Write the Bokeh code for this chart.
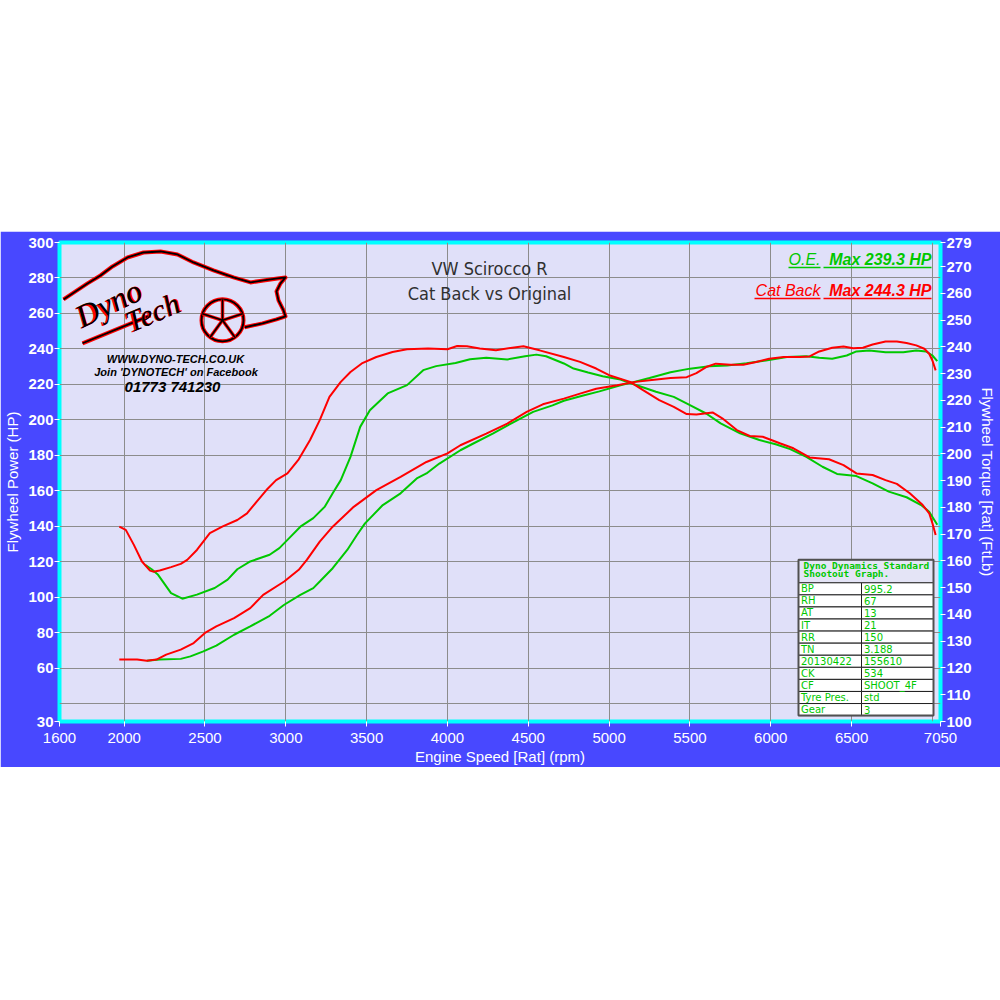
import math
from bokeh.plotting import figure
from bokeh.models import Range1d, LinearAxis, FixedTicker, Spacer
from bokeh.layouts import column
from bokeh.embed import file_html
from bokeh.resources import INLINE
from bokeh.core.properties import value

# ---------------- data ----------------
title_lines = ["VW Scirocco R", "Cat Back vs Original"]
x_ticks = [1600, 2000, 2500, 3000, 3500, 4000, 4500, 5000, 5500, 6000, 6500, 7050]
hp_ticks = [30, 60, 80, 100, 120, 140, 160, 180, 200, 220, 240, 260, 280, 300]
tq_ticks = [100, 110, 120, 130, 140, 150, 160, 170, 180, 190, 200, 210, 220, 230, 240, 250, 260, 270, 279]
grid_x = [2000, 2500, 3000, 3500, 4000, 4500, 5000, 5500, 6000, 6500, 7000]
grid_y = [40, 60, 80, 100, 120, 140, 160, 180, 200, 220, 240, 260, 280]

# Cat Back (red) power, HP
rpm_hp_cat = [1970, 2080, 2140, 2200, 2260, 2350, 2430, 2500, 2570, 2680,
              2780, 2860, 2990, 3080, 3130, 3210, 3290, 3420, 3560, 3710,
              3870, 4000, 4080, 4240, 4370, 4490, 4590, 4720, 4820, 4920,
              5050, 5150, 5250, 5380, 5480, 5540, 5600, 5660, 5750, 5830,
              5910, 5990, 6080, 6180, 6240, 6300, 6380, 6450, 6510, 6570,
              6630, 6710, 6780, 6840, 6900, 6950, 6980, 7000, 7020]
hp_cat = [64.9, 64.9, 64.3, 64.9, 67.7, 70.5, 74.2, 79.9, 83.6, 88.3,
          93.9, 101.4, 108.9, 115.5, 121.1, 131.4, 139.8, 151.0, 160.4, 167.9,
          176.3, 181.1, 185.7, 192.3, 197.9, 204.5, 208.8, 212.0, 214.8, 217.6,
          219.5, 221.3, 222.3, 223.6, 224.1, 226.4, 229.8, 231.7, 231.1, 231.1,
          232.6, 234.5, 235.4, 235.4, 235.8, 238.6, 240.7, 241.4, 240.4, 240.7,
          242.5, 244.2, 244.2, 243.3, 242.0, 240.1, 237.3, 233.5, 227.9]

# O.E. (green) power, HP
rpm_hp_oe = [2140, 2220, 2350, 2410, 2490, 2570, 2680, 2780, 2900, 2990,
             3090, 3170, 3210, 3290, 3380, 3440, 3490, 3600, 3710, 3810,
             3870, 3950, 4080, 4160, 4280, 4410, 4530, 4650, 4720, 4840,
             4940, 5070, 5150, 5250, 5380, 5500, 5620, 5730, 5850, 5970,
             6100, 6220, 6300, 6380, 6470, 6530, 6610, 6710, 6820, 6900,
             6960, 7000, 7030]
hp_oe = [64.3, 64.9, 65.3, 66.7, 69.5, 72.8, 78.9, 83.6, 89.6, 95.8,
         101.4, 105.2, 108.9, 116.4, 126.7, 135.1, 141.7, 152.0, 158.6, 167.0,
         169.8, 175.4, 182.9, 186.7, 192.3, 198.8, 204.5, 208.2, 210.8, 213.8,
         216.1, 219.5, 221.3, 223.6, 226.9, 228.9, 230.2, 230.7, 232.0, 233.5,
         235.4, 235.9, 235.0, 234.5, 236.3, 238.6, 239.1, 238.2, 238.2, 239.1,
         238.6, 236.3, 233.1]

# Cat Back (red) torque, ft-lb
rpm_tq_cat = [1970, 2010, 2060, 2110, 2160, 2180, 2220, 2290, 2350, 2390,
              2450, 2530, 2610, 2700, 2760, 2820, 2880, 2940, 3010, 3080,
              3150, 3210, 3270, 3340, 3400, 3470, 3560, 3660, 3750, 3880,
              4000, 4060, 4120, 4200, 4300, 4390, 4470, 4570, 4720, 4820,
              4920, 5000, 5130, 5210, 5310, 5400, 5480, 5540, 5640, 5700,
              5790, 5870, 5950, 6060, 6140, 6240, 6360, 6450, 6530, 6630,
              6710, 6780, 6860, 6940, 6980, 7000, 7020]
tq_cat = [172.8, 171.6, 166.0, 159.8, 156.4, 156.0, 156.4, 157.7, 158.9, 160.4,
          164.1, 170.4, 172.9, 175.3, 177.8, 182.2, 186.5, 190.2, 192.7, 198.0,
          205.2, 212.6, 221.3, 226.9, 230.6, 233.8, 236.2, 238.1, 239.1, 239.4,
          239.1, 240.3, 240.2, 239.4, 238.7, 239.6, 240.2, 238.7, 236.2, 234.4,
          231.9, 229.4, 226.9, 223.8, 220.1, 217.6, 214.9, 214.7, 215.5, 213.3,
          208.9, 206.7, 206.4, 203.9, 202.1, 198.7, 198.0, 195.8, 192.7, 192.1,
          190.2, 188.8, 185.3, 180.9, 177.8, 174.1, 169.7]

# O.E. (green) torque, ft-lb
rpm_tq_oe = [2130, 2170, 2210, 2290, 2360, 2450, 2560, 2640, 2700, 2780,
             2900, 2960, 3030, 3090, 3170, 3240, 3290, 3340, 3400, 3460,
             3520, 3630, 3750, 3850, 3930, 4050, 4140, 4240, 4370, 4480,
             4550, 4610, 4720, 4780, 4870, 4960, 5070, 5130, 5290, 5400,
             5500, 5600, 5690, 5810, 5930, 6030, 6120, 6220, 6320, 6410,
             6530, 6630, 6730, 6840, 6930, 6980, 7030]
tq_oe = [158.5, 156.9, 154.8, 148.0, 145.9, 147.4, 149.9, 153.0, 156.9, 159.8,
         162.3, 164.8, 169.1, 172.8, 176.0, 180.2, 185.3, 190.2, 198.9, 210.1,
         216.3, 222.6, 225.7, 231.3, 232.8, 234.0, 235.4, 235.9, 235.3, 236.5,
         237.1, 236.5, 233.8, 231.9, 230.4, 229.0, 227.8, 226.5, 223.2, 221.3,
         218.2, 215.1, 211.4, 207.7, 205.2, 203.6, 201.8, 198.9, 195.2, 192.5,
         191.7, 189.0, 185.9, 183.8, 180.9, 178.4, 173.5]

legend_names = ["O.E.", "Cat Back"]
legend_max = ["Max 239.3 HP", "Max 244.3 HP"]

table_header = ["Dyno Dynamics Standard", "Shootout Graph."]
table_labels = ["BP", "RH", "AT", "IT", "RR", "TN", "20130422", "CK", "CF", "Tyre Pres.", "Gear"]
table_values = ["995.2", "67", "13", "21", "150", "3.188", "155610", "534", "SHOOT_4F", "std", "3"]

logo_lines = ["WWW.DYNO-TECH.CO.UK", "Join 'DYNOTECH' on Facebook", "01773 741230"]

# ---------------- style ----------------
BLUE = "#4848ff"
LAV = "#e0e0f9"
CYAN = "#00ffff"
RED = "#ff0000"
GREEN = "#00c800"
FONT = "Liberation Sans"

# page pixel -> data helpers (for decorations only)
FX0, FX1, FY0, FY1 = 59.0, 940.0, 242.0, 722.0
def sx(px):
    return 1600 + (px - FX0) * (7050 - 1600) / (FX1 - FX0)
def sy(py):
    return 30 + (FY1 - py) * (300 - 30) / (FY1 - FY0)

p = figure(width=1000, height=536, x_range=Range1d(1600, 7050), y_range=Range1d(30, 300),
           output_backend="svg", toolbar_location=None,
           min_border_left=59, min_border_right=60, min_border_top=11, min_border_bottom=45,
           background_fill_color=LAV, border_fill_color=BLUE,
           outline_line_color=CYAN, outline_line_width=4)
p.extra_y_ranges = {"tq": Range1d(100, 279)}

p.xaxis.ticker = FixedTicker(ticks=x_ticks)
p.yaxis.ticker = FixedTicker(ticks=hp_ticks)
p.xaxis.axis_label = "Engine Speed [Rat] (rpm)"
p.yaxis.axis_label = "Flywheel Power (HP)"
rax = LinearAxis(y_range_name="tq", ticker=FixedTicker(ticks=tq_ticks),
                 axis_label="Flywheel Torque [Rat] (FtLb)")
p.add_layout(rax, "right")

for ax in [p.xaxis[0], p.yaxis[0], rax]:
    ax.axis_line_color = None
    ax.major_tick_line_color = "white"
    ax.major_tick_out = 5
    ax.major_tick_in = 0
    ax.minor_tick_line_color = None
    ax.major_label_text_color = "white"
    ax.major_label_text_font = FONT
    ax.major_label_text_font_size = "15px"
    ax.axis_label_text_color = "white"
    ax.axis_label_text_font = FONT
    ax.axis_label_text_font_style = "normal"
    ax.axis_label_text_font_size = "15px"
for ax in [p.yaxis[0], rax]:
    ax.major_label_text_font_style = "bold"
    ax.major_label_standoff = 1
    ax.axis_label_standoff = 4
p.xaxis[0].major_label_standoff = 6
p.xaxis[0].axis_label_standoff = 2

p.xgrid.ticker = FixedTicker(ticks=grid_x)
p.ygrid.ticker = FixedTicker(ticks=grid_y)
p.grid.grid_line_color = "#8c8c8c"
p.grid.grid_line_width = 1

# ---------------- curves ----------------
p.line(rpm_tq_oe, tq_oe, y_range_name="tq", line_color=GREEN, line_width=2)
p.line(rpm_hp_oe, hp_oe, line_color=GREEN, line_width=2)
p.line(rpm_tq_cat, tq_cat, y_range_name="tq", line_color=RED, line_width=2)
p.line(rpm_hp_cat, hp_cat, line_color=RED, line_width=2)

# ---------------- title ----------------
p.text(x=[sx(489), sx(489)], y=[sy(268), sy(293)], text=title_lines,
       text_font=value("DejaVu Sans Condensed, Liberation Sans"), text_font_size="18px",
       text_color="#303030", text_align="center", text_baseline="middle")

# ---------------- legend (top right) ----------------
leg_cols = [GREEN, RED]
leg_mid = [259, 290]
leg_ul = [267, 298]
for i in range(2):
    p.text(x=[sx(931)], y=[sy(leg_mid[i])], text=[legend_max[i]],
           text_font=value(FONT), text_font_style="bold italic", text_font_size="16px",
           text_color=leg_cols[i], text_align="right", text_baseline="middle")
    p.text(x=[sx(820)], y=[sy(leg_mid[i])], text=[legend_names[i]],
           text_font=value(FONT), text_font_style="italic", text_font_size="16px",
           text_color=leg_cols[i], text_align="right", text_baseline="middle")
p.segment(x0=[sx(788), sx(823), sx(754), sx(823)],
          y0=[sy(leg_ul[0]), sy(leg_ul[0]), sy(leg_ul[1]), sy(leg_ul[1])],
          x1=[sx(820), sx(931), sx(820), sx(931)],
          y1=[sy(leg_ul[0]), sy(leg_ul[0]), sy(leg_ul[1]), sy(leg_ul[1])],
          line_color=[GREEN, GREEN, RED, RED], line_width=1.5)

# ---------------- table ----------------
TL, TM, TR = 798, 861, 933
HT, HB, RH = 560, 583, 12.1
p.quad(left=[sx(TL)], right=[sx(TR)], top=[sy(HT)], bottom=[sy(HB)],
       fill_color="#e4e4f6", line_color="#707070", line_width=1)
lefts, rights, tops, bottoms = [], [], [], []
for i in range(len(table_labels)):
    t = HB + RH * i
    b = HB + RH * (i + 1)
    lefts += [sx(TL), sx(TM)]
    rights += [sx(TM), sx(TR)]
    tops += [sy(t), sy(t)]
    bottoms += [sy(b), sy(b)]
p.quad(left=lefts, right=rights, top=tops, bottom=bottoms,
       fill_color="white", line_color="#202020", line_width=1)
p.quad(left=[sx(TL)], right=[sx(TR)], top=[sy(HT)], bottom=[sy(HB + RH * len(table_labels))],
       fill_color=None, line_color="#505050", line_width=2)
p.text(x=[sx(803), sx(803)], y=[sy(566), sy(573.5)], text=table_header,
       text_font=value("DejaVu Sans Mono"), text_font_style="bold", text_font_size="9.5px",
       text_color=GREEN, text_align="left", text_baseline="middle")
row_y = [sy(HB + RH * (i + 0.5)) for i in range(len(table_labels))]
p.text(x=[sx(800.5)] * len(table_labels), y=row_y, text=table_labels,
       text_font=value("DejaVu Sans"), text_font_size="10px",
       text_color=GREEN, text_align="left", text_baseline="middle")
p.text(x=[sx(863.5)] * len(table_values), y=row_y, text=table_values,
       text_font=value("DejaVu Sans"), text_font_size="10px",
       text_color=GREEN, text_align="left", text_baseline="middle")

# ---------------- logo ----------------
car_px = [63, 75, 87, 100, 112, 127, 143, 160, 177, 193, 213, 233, 250, 263, 277, 285,
          280, 276, 278, 283, 285, 276, 262, 244]
car_py = [299, 291, 283, 275, 266, 257, 252, 251, 254, 262, 270, 277, 282, 280, 278, 277,
          283, 291, 300, 310, 316, 319, 323, 327]
cx_ = [sx(v) for v in car_px]
cy_ = [sy(v) for v in car_py]
p.line(cx_, cy_, line_color=RED, line_width=4, line_join="round")
p.line(cx_, cy_, line_color="black", line_width=1.8, line_join="round")
stroke_x = [sx(82), sx(150)]
stroke_y = [sy(343), sy(315)]
p.line(stroke_x, stroke_y, line_color=RED, line_width=4)
p.line(stroke_x, stroke_y, line_color="black", line_width=1.8)
# wheel
wcx, wcy, wr = 222, 320, 21
p.scatter([sx(wcx)], [sy(wcy)], size=2 * wr, marker="circle", fill_color=None,
          line_color=RED, line_width=4)
p.scatter([sx(wcx)], [sy(wcy)], size=2 * wr, marker="circle", fill_color=None,
          line_color="black", line_width=1.8)
sp_x0, sp_y0, sp_x1, sp_y1 = [], [], [], []
for k in range(5):
    a = math.radians(90 + 72 * k)
    sp_x0.append(sx(wcx)); sp_y0.append(sy(wcy))
    sp_x1.append(sx(wcx + wr * math.cos(a))); sp_y1.append(sy(wcy - wr * math.sin(a)))
p.segment(sp_x0, sp_y0, sp_x1, sp_y1, line_color=RED, line_width=3.5)
p.segment(sp_x0, sp_y0, sp_x1, sp_y1, line_color="black", line_width=1.6)
# "Dyno" "Tech" script
for txt, px, py, ang, fs in [("Dyno", 108, 303, 0.45, "32px"), ("Tech", 152, 312, 0.40, "30px")]:
    p.text(x=[sx(px)], y=[sy(py)], text=[txt], angle=ang,
           text_font=value("Liberation Serif"), text_font_style="bold italic", text_font_size=fs,
           text_color=RED, text_align="center", text_baseline="middle")
    p.text(x=[sx(px)], y=[sy(py)], text=[txt], angle=ang,
           text_font=value("Liberation Serif"), text_font_style="italic", text_font_size=fs,
           text_color="black", text_align="center", text_baseline="middle")
p.text(x=[sx(175), sx(175.5)], y=[sy(358.5), sy(372)], text=logo_lines[:2],
       text_font=value(FONT), text_font_style="bold italic", text_font_size="11px",
       text_color="black", text_align="center", text_baseline="middle")
p.text(x=[sx(172)], y=[sy(386.5)], text=logo_lines[2:],
       text_font=value(FONT), text_font_style="bold italic", text_font_size="15px",
       text_color="black", text_align="center", text_baseline="middle")

layout = column(Spacer(width=1000, height=231), p)
open("out.html", "w").write(file_html(layout, INLINE))
